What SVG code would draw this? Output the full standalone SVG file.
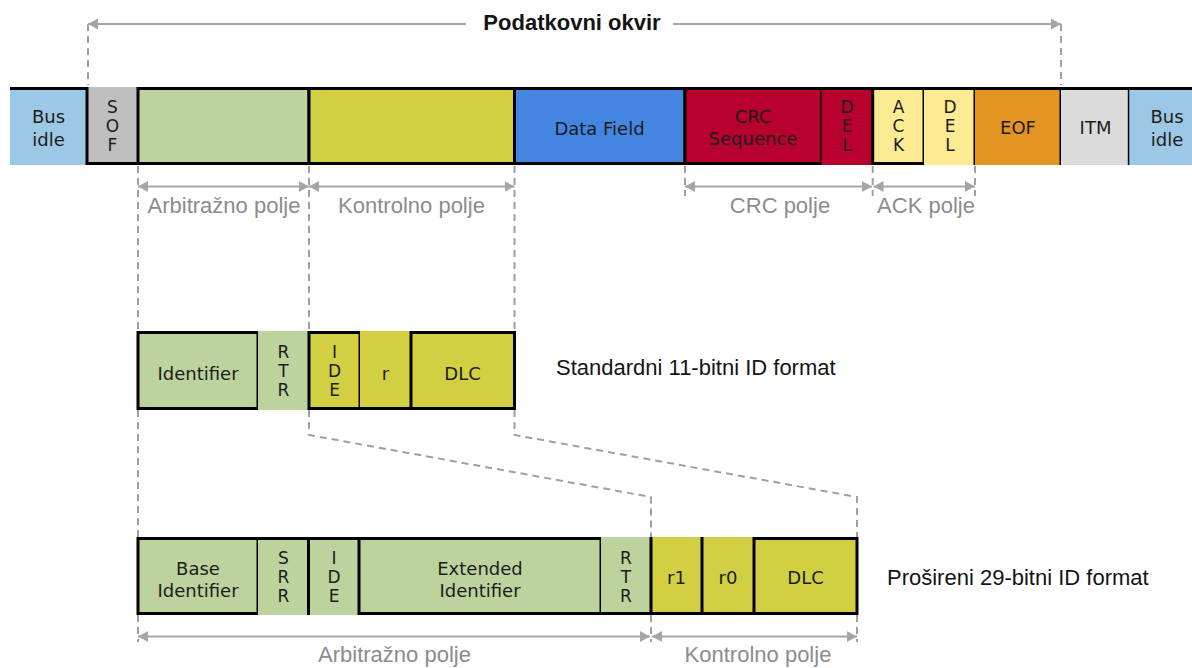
<svg xmlns="http://www.w3.org/2000/svg" width="1192" height="668" viewBox="0 0 1192 668">
<style>
.bx{font-family:"DejaVu Sans",Verdana,sans-serif;font-size:18px;fill:#1c1c1c;text-anchor:middle}
.lt{font-family:"DejaVu Sans",Verdana,sans-serif;font-size:17px;fill:#1c1c1c;text-anchor:middle}
.lbl{font-family:"Liberation Sans",Arial,sans-serif;font-size:22px;fill:#8c8c8c;text-anchor:middle}
.fmt{font-family:"Liberation Sans",Arial,sans-serif;font-size:22px;fill:#141414}
.ttl{font-family:"Liberation Sans",Arial,sans-serif;font-size:22px;font-weight:bold;fill:#141414;text-anchor:middle}
.ln{fill:none;stroke:#000;stroke-width:3}
.dash{fill:none;stroke:#a0a0a0;stroke-width:2;stroke-dasharray:7 5}
.arr{fill:none;stroke:#a6a6a6;stroke-width:2}
.g{fill:#bdd39d}.y{fill:#d3cf43}
</style>
<defs>
<marker id="ah" viewBox="0 0 10 11" refX="10" refY="5.5" markerWidth="10" markerHeight="11" markerUnits="userSpaceOnUse" orient="auto-start-reverse"><path d="M0,0 L10,5.5 L0,11 z" fill="#a6a6a6"/></marker>
</defs>

<text class="ttl" x="572" y="30">Podatkovni okvir</text>

<g id="connectors">
<line class="arr" x1="88" y1="24" x2="466" y2="24" marker-start="url(#ah)"/>
<line class="arr" x1="673" y1="24" x2="1061" y2="24" marker-end="url(#ah)"/>
<path class="dash" d="M88 24V85M1061 24V85"/>
<path class="dash" d="M138 166V331M309 166V331M514.5 166V331M685 166V196M872.7 166V196M975 166V196"/>
<path class="dash" d="M138 410V537M138 615V642"/>
<path class="dash" d="M309 410V435L651 497V537M514.5 410V435L857 497V537"/>
<path class="dash" d="M651 615V642M857 615V642"/>
<line class="arr" x1="138" y1="186.5" x2="309" y2="186.5" marker-start="url(#ah)" marker-end="url(#ah)"/>
<line class="arr" x1="309" y1="186.5" x2="514.5" y2="186.5" marker-start="url(#ah)" marker-end="url(#ah)"/>
<line class="arr" x1="685" y1="186.5" x2="872" y2="186.5" marker-start="url(#ah)" marker-end="url(#ah)"/>
<line class="arr" x1="873.5" y1="186.5" x2="975" y2="186.5" marker-start="url(#ah)" marker-end="url(#ah)"/>
<line class="arr" x1="138" y1="636.5" x2="650" y2="636.5" marker-start="url(#ah)" marker-end="url(#ah)"/>
<line class="arr" x1="652" y1="636.5" x2="857" y2="636.5" marker-start="url(#ah)" marker-end="url(#ah)"/>
</g>

<g id="labels">
<text class="lbl" x="224" y="213">Arbitražno polje</text>
<text class="lbl" x="411.5" y="213">Kontrolno polje</text>
<text class="lbl" x="780" y="213">CRC polje</text>
<text class="lbl" x="926" y="213">ACK polje</text>
<text class="lbl" x="394.5" y="662">Arbitražno polje</text>
<text class="lbl" x="758" y="662">Kontrolno polje</text>
<text class="fmt" x="556" y="375">Standardni 11-bitni ID format</text>
<text class="fmt" x="887" y="585">Prošireni 29-bitni ID format</text>
</g>

<!-- Top row -->
<g id="bus-idle-left">
<rect x="10" y="87" width="77" height="78" fill="#9dc8e5"/>
<path class="ln" d="M10 88.5H87"/>
<text class="bx" x="48.5" y="123">Bus</text><text class="bx" x="48.5" y="146">idle</text>
</g>
<g id="sof">
<rect x="87" y="87" width="51" height="78" fill="#bfbfbf"/>
<path class="ln" d="M87 87V163.5H138"/>
<text class="lt" x="112.5" y="113">S</text><text class="lt" x="112.5" y="132">O</text><text class="lt" x="112.5" y="151">F</text>
</g>
<g id="arbitration">
<rect class="g" x="138" y="87" width="171" height="78"/>
<rect class="ln" x="138" y="88.5" width="171" height="75"/>
</g>
<g id="control">
<rect class="y" x="309" y="87" width="205.5" height="78"/>
<rect class="ln" x="309" y="88.5" width="205.5" height="75"/>
</g>
<g id="data-field">
<rect x="514.5" y="87" width="170.5" height="78" fill="#4485e2"/>
<rect class="ln" x="514.5" y="88.5" width="170.5" height="75"/>
<text class="bx" x="599.5" y="135">Data Field</text>
</g>
<g id="crc-sequence">
<rect x="685" y="87" width="136.5" height="78" fill="#b7002e"/>
<rect class="ln" x="685" y="88.5" width="136.5" height="75"/>
<text class="bx" x="753" y="123">CRC</text><text class="bx" x="753" y="145">Sequence</text>
</g>
<g id="crc-del">
<rect x="821.5" y="87" width="51.2" height="78" fill="#b7002e"/>
<path class="ln" d="M821.5 88.5H872.7"/>
<text class="lt" x="847" y="113">D</text><text class="lt" x="847" y="132">E</text><text class="lt" x="847" y="151">L</text>
</g>
<g id="ack">
<rect x="872.7" y="87" width="51.3" height="78" fill="#fdeb93"/>
<rect class="ln" x="872.7" y="88.5" width="51.3" height="75"/>
<text class="lt" x="898.5" y="113">A</text><text class="lt" x="898.5" y="132">C</text><text class="lt" x="898.5" y="151">K</text>
</g>
<g id="ack-del">
<rect x="924" y="87" width="51" height="78" fill="#fdeb93"/>
<path class="ln" d="M924 88.5H975M975 87V165"/>
<text class="lt" x="950" y="113">D</text><text class="lt" x="950" y="132">E</text><text class="lt" x="950" y="151">L</text>
</g>
<g id="eof">
<rect x="975" y="87" width="86" height="78" fill="#e49420"/>
<path class="ln" d="M975 88.5H1061M1061 87V165"/>
<text class="bx" x="1018" y="134">EOF</text>
</g>
<g id="itm">
<rect x="1061" y="87" width="68.3" height="78" fill="#dbdbdb"/>
<path class="ln" d="M1061 88.5H1129.3M1129.3 87V165"/>
<text class="bx" x="1095.5" y="134">ITM</text>
</g>
<g id="bus-idle-right">
<rect x="1129.3" y="87" width="62.7" height="78" fill="#9dc8e5"/>
<path class="ln" d="M1129.3 88.5H1192"/>
<text class="bx" x="1167" y="123">Bus</text><text class="bx" x="1167" y="146">idle</text>
</g>

<!-- Standard row -->
<g id="std-identifier">
<rect class="g" x="138" y="331" width="120" height="79"/>
<rect class="ln" x="138" y="332.5" width="120" height="76"/>
<text class="bx" x="198" y="380">Identifier</text>
</g>
<g id="std-rtr">
<rect class="g" x="258" y="331" width="51" height="79"/>
<text class="lt" x="283.5" y="358">R</text><text class="lt" x="283.5" y="377">T</text><text class="lt" x="283.5" y="396">R</text>
</g>
<g id="std-ide">
<rect class="y" x="309" y="331" width="51" height="79"/>
<rect class="ln" x="309" y="332.5" width="51" height="76"/>
<text class="lt" x="334.5" y="358">I</text><text class="lt" x="334.5" y="377">D</text><text class="lt" x="334.5" y="396">E</text>
</g>
<g id="std-r">
<rect class="y" x="360" y="331" width="51" height="79"/>
<path class="ln" d="M360 408.5H411"/>
<text class="bx" x="385.5" y="380">r</text>
</g>
<g id="std-dlc">
<rect class="y" x="411" y="331" width="103.5" height="79"/>
<rect class="ln" x="411" y="332.5" width="103.5" height="76"/>
<text class="bx" x="462.5" y="380">DLC</text>
</g>

<!-- Extended row -->
<g id="ext-base-identifier">
<rect class="g" x="138" y="537" width="120" height="78"/>
<rect class="ln" x="138" y="538.5" width="120" height="75"/>
<text class="bx" x="198" y="575">Base</text><text class="bx" x="198" y="597">Identifier</text>
</g>
<g id="ext-srr">
<rect class="g" x="258" y="537" width="50.5" height="78"/>
<path class="ln" d="M258 538.5H308.5"/>
<text class="lt" x="283.5" y="564">S</text><text class="lt" x="283.5" y="583">R</text><text class="lt" x="283.5" y="602">R</text>
</g>
<g id="ext-ide">
<rect class="g" x="308.5" y="537" width="50.5" height="78"/>
<path class="ln" d="M308.5 615V538.5H359"/>
<text class="lt" x="334" y="564">I</text><text class="lt" x="334" y="583">D</text><text class="lt" x="334" y="602">E</text>
</g>
<g id="ext-extended-identifier">
<rect class="g" x="359" y="537" width="242" height="78"/>
<rect class="ln" x="359" y="538.5" width="242" height="75"/>
<text class="bx" x="480" y="575">Extended</text><text class="bx" x="480" y="597">Identifier</text>
</g>
<g id="ext-rtr">
<rect class="g" x="601" y="537" width="50" height="78"/>
<path class="ln" d="M601 613.5H651"/>
<text class="lt" x="626" y="564">R</text><text class="lt" x="626" y="583">T</text><text class="lt" x="626" y="602">R</text>
</g>
<g id="ext-r1">
<rect class="y" x="651" y="537" width="51" height="78"/>
<path class="ln" d="M651 537V613.5H702"/>
<text class="bx" x="676.5" y="584">r1</text>
</g>
<g id="ext-r0">
<rect class="y" x="702" y="537" width="52" height="78"/>
<path class="ln" d="M702 537V613.5H754"/>
<text class="bx" x="728" y="584">r0</text>
</g>
<g id="ext-dlc">
<rect class="y" x="754" y="537" width="103" height="78"/>
<rect class="ln" x="754" y="538.5" width="103" height="75"/>
<text class="bx" x="805.5" y="584">DLC</text>
</g>
</svg>
